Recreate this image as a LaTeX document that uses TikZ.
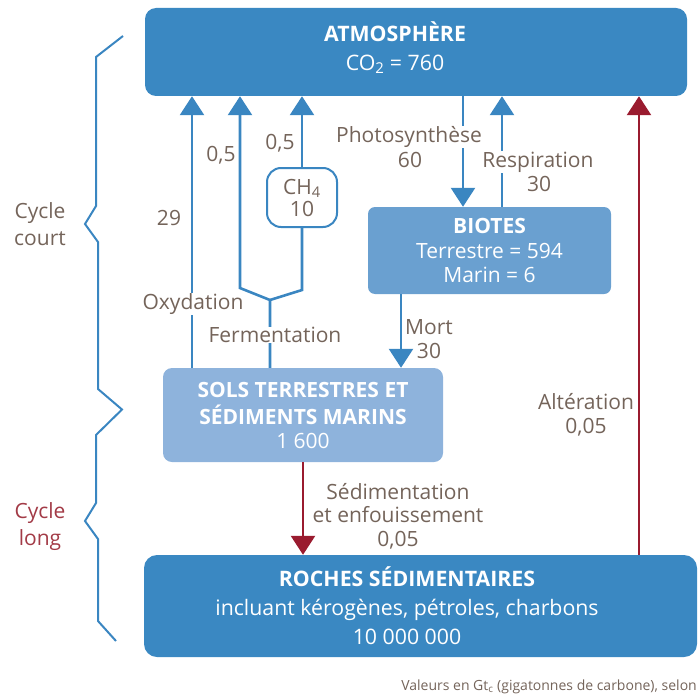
\documentclass[tikz,border=0pt]{standalone}
\usepackage{fontspec}
\setmainfont{Open Sans}
\usetikzlibrary{arrows.meta}
\definecolor{boxA}{HTML}{3A88C2}
\definecolor{boxB}{HTML}{6AA0D0}
\definecolor{boxC}{HTML}{8EB3DC}
\definecolor{lineB}{HTML}{3A86C1}
\definecolor{lineR}{HTML}{9A1B2F}
\definecolor{txt}{HTML}{74645A}
\definecolor{txtR}{HTML}{A23A46}
\begin{document}
\begin{tikzpicture}[x=1pt,y=-1pt,
  bigbox/.style={fill=boxA, rounded corners=11pt, inner sep=0pt},
  biobox/.style={fill=boxB, rounded corners=7pt, inner sep=0pt, text=white, align=center, font=\fontsize{21}{24.5}\selectfont},
  solbox/.style={fill=boxC, rounded corners=9pt, inner sep=0pt, text=white, align=center, font=\fontsize{21}{27.5}\selectfont},
  boxtext/.style={inner sep=0pt, text=white, align=center, font=\fontsize{21.3}{29}\selectfont},
  lbl/.style={inner sep=0.5pt, text=txt, align=center, font=\fontsize{21}{23.5}\selectfont},
  cover/.style={lbl, fill=white},
  plain/.style={draw=lineB, line width=2.6pt},
  flow/.style={plain, -{Triangle[width=24pt,length=19pt]}},
  rflow/.style={draw=lineR, line width=2.6pt, -{Triangle[width=24pt,length=19pt]}},
  bracestyle/.style={draw=lineB, line width=2pt, line join=miter}
]
\useasboundingbox (0,0) rectangle (697,698);

% boxes
\node[bigbox, minimum width=542pt, minimum height=88pt] (atmos) at (416,52) {};
\node[boxtext] (atmosT) at (395,47.5) {\textbf{ATMOSPHÈRE}\\CO\textsubscript{2} = 760};
\node[biobox, minimum width=243pt, minimum height=87pt] (biotes) at (489.5,250.5) {\textbf{BIOTES}\\Terrestre = 594\\Marin = 6};
\node[solbox, minimum width=280pt, minimum height=94pt] (sols) at (303,415) {\textbf{SOLS TERRESTRES ET}\\\textbf{SÉDIMENTS MARINS}\\[-4pt]1 600};
\node[bigbox, minimum width=553pt, minimum height=102pt, rounded corners=13pt] (roches) at (420.5,606) {};
\node[boxtext] (rochesT) at (407,606) {\textbf{ROCHES SÉDIMENTAIRES}\\incluant kérogènes, pétroles, charbons\\10 000 000};
\node[draw=lineB, line width=2pt, fill=white, rounded corners=14pt, minimum width=70pt, minimum height=59pt, inner sep=0pt, text=txt, align=center, font=\fontsize{21}{22}\selectfont] (ch4) at (302,197.5) {CH\textsubscript{4}\\10};

% x positions of connectors
\coordinate (xO) at (192,0);
\coordinate (xL) at (240,0);
\coordinate (xF) at (270,0);
\coordinate (xC) at (302,0);
\coordinate (xP) at (463,0);
\coordinate (xR) at (502,0);
\coordinate (xM) at (401,0);
\coordinate (xS) at (303,0);
\coordinate (xA) at (639,0);
\coordinate (jl) at (240,288);
\coordinate (jr) at (302,290);
\coordinate (junc) at (270,300);

% connectors
\draw[flow] (sols.north -| xO) -- (atmos.south -| xO);
\draw[flow] (sols.north -| xF) -- (junc) -- (jl) -- (atmos.south -| xL);
\draw[plain] (junc) -- (jr) -- (ch4.south);
\draw[flow] (ch4.north) -- (atmos.south -| xC);
\draw[flow] (atmos.south -| xP) -- (biotes.north -| xP);
\draw[flow] (biotes.north -| xR) -- (atmos.south -| xR);
\draw[flow] (biotes.south -| xM) -- (sols.north -| xM);
\draw[rflow] (sols.south -| xS) -- (roches.north -| xS);
\draw[rflow] (roches.north -| xA) -- (atmos.south -| xA);

% braces
\draw[bracestyle] (123,36) -- (96,57) -- (96,206) -- (85,224) -- (98,242) -- (98,389) -- (122,409.5) -- (96,435) -- (96,503) -- (85,521) -- (98,539) -- (98,621) -- (116,641);

% labels
\node[lbl] (n29) at (169,218) {29};
\node[lbl] (n05a) at (221,155) {0,5};
\node[lbl] (n05b) at (280,143) {0,5};
\node[cover] (oxy) at (193,304) {Oxydation};
\node[cover] (ferm) at (275,335) {Fermentation};
\node[cover] (photo) at (409,137) {Photosynthèse};
\node[lbl] (n60) at (410,160) {60};
\node[cover] (resp) at (538,162) {Respiration};
\node[lbl] (n30r) at (539,184) {30};
\node[lbl] (mort) at (429,339) {Mort\\30};
\node[lbl] (sedi) at (398,516) {Sédimentation\\et enfouissement\\0,05};
\node[lbl] (alte) at (586,415) {Altération\\0,05};
\node[lbl, font=\fontsize{21}{27}\selectfont] (cc) at (40,224.5) {Cycle\\court};
\node[lbl, text=txtR, font=\fontsize{21}{27}\selectfont] (cl) at (40,526.5) {Cycle\\long};
\node[anchor=east, inner sep=0pt, text=txt, font=\fontsize{14}{16}\selectfont] (foot) at (697,687) {Valeurs en Gt\textsubscript{c} (gigatonnes de carbone), selon};
\end{tikzpicture}
\end{document}
